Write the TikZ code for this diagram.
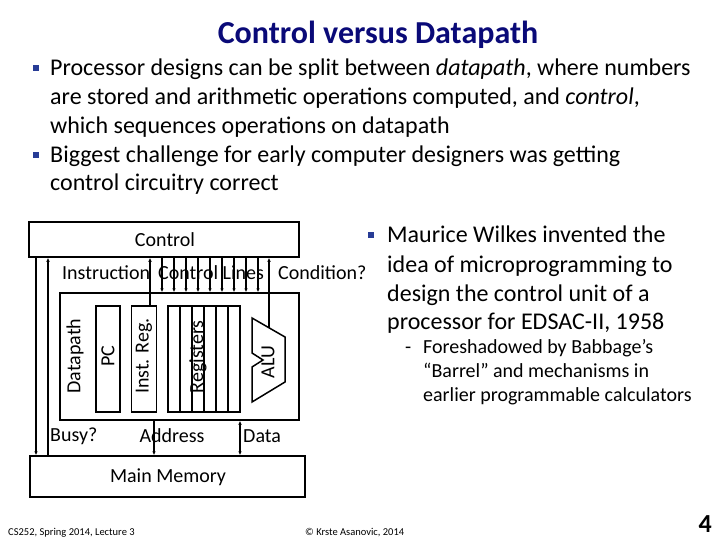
\documentclass[tikz,border=0pt]{standalone}
\usepackage{fontspec}
\setmainfont{Carlito}
\usepackage{xcolor}
\usetikzlibrary{arrows.meta,calc}
\definecolor{titleblue}{RGB}{10,10,120}
\definecolor{bulletblue}{RGB}{40,60,150}
\newcommand{\sqbullet}{\textcolor{bulletblue}{\rule[0.2em]{0.26em}{0.26em}}}

\begin{document}
\begin{tikzpicture}[x=1pt,y=-1pt,
    unit/.style={draw,line width=1.5pt,rectangle,inner sep=0pt},
    sig/.style={line width=1.1pt,-{Latex[length=4pt,width=3.5pt]}},
    sigboth/.style={line width=1.1pt,{Latex[length=4pt,width=3.5pt]}-{Latex[length=4pt,width=3.5pt]}},
    lbl/.style={inner sep=0pt,font=\fontsize{20}{24}\selectfont},
    body/.style={anchor=base west,inner sep=0pt,font=\fontsize{24}{29}\selectfont},
    subbody/.style={anchor=base west,inner sep=0pt,font=\fontsize{20}{24}\selectfont}]
    \useasboundingbox (0,0) rectangle (720,540);

    % title and bullets
    \node[anchor=base,inner sep=0pt,text=titleblue,font=\fontsize{32}{38}\bfseries] (title) at (378,44) {Control versus Datapath};
    \node[body] at (33,76) {\sqbullet};
    \node[body] at (50,76) {Processor designs can be split between \textit{datapath}, where numbers};
    \node[body] at (50,105) {are stored and arithmetic operations computed, and \textit{control},};
    \node[body] at (50,134) {which sequences operations on datapath};
    \node[body] at (33,163) {\sqbullet};
    \node[body] at (50,163) {Biggest challenge for early computer designers was getting};
    \node[body] at (50,191) {control circuitry correct};

    \node[body] at (368,243) {\sqbullet};
    \node[body] at (387,243) {Maurice Wilkes invented the};
    \node[body] at (387,272) {idea of microprogramming to};
    \node[body] at (387,301) {design the control unit of a};
    \node[body] at (387,329) {processor for EDSAC-II, 1958};
    \node[subbody] at (405,353) {-};
    \node[subbody] at (423,353) {Foreshadowed by Babbage’s};
    \node[subbody] at (423,377) {“Barrel” and mechanisms in};
    \node[subbody] at (423,401) {earlier programmable calculators};

    % boxes
    \node[unit,minimum width=270pt,minimum height=35pt] (ctrl) at (164,239.5) {};
    \node[lbl] at (165,240) {Control};
    \node[unit,minimum width=239pt,minimum height=127pt] (dpath) at (179.5,356.5) {};
    \node[unit,minimum width=275pt,minimum height=41pt] (mem) at (167.5,476.5) {};
    \node[lbl] at (168,477) {Main Memory};
    \node[unit,minimum width=24pt,minimum height=106pt] (pc) at (108,359) {};
    \node[unit,minimum width=25pt,minimum height=106pt] (ir) at (144,359) {};
    \node[unit,minimum width=72pt,minimum height=106pt] (regs) at (204,359) {};
    \foreach \x in {180,192,204,216,228}
        \draw[line width=1.1pt] (\x,0 |- regs.north) -- (\x,0 |- regs.south);
    \draw[line width=1.5pt] (252,318) -- (285,337) -- (285,382) -- (252,402)
        -- (252,367) -- (263,360) -- (252,353) -- cycle;
    \coordinate (aluin) at (269,327.5);

    % rotated labels
    \node[lbl,rotate=90] at (75,356) {Datapath};
    \node[lbl,rotate=90] at (108,356) {PC};
    \node[lbl,rotate=90] at (144,356) {Inst. Reg.};
    \node[lbl,rotate=90] at (198,357) {Registers};
    \node[lbl,rotate=90] at (268,362) {ALU};

    % signals
    \node[lbl,anchor=west] at (62,273) {Instruction};
    \node[lbl,anchor=west] at (158,273) {Control Lines};
    \node[lbl,anchor=west] at (278,273) {Condition?};
    \draw[sig] (36,0 |- ctrl.south) -- (36,0 |- mem.north);
    \draw[sig] (48,0 |- mem.north) -- (48,0 |- ctrl.south);
    \draw[sig] (150,0 |- ir.north) -- (150,0 |- ctrl.south);
    \foreach \x in {162,174,...,258}
        \draw[sig] (\x,0 |- ctrl.south) -- (\x,0 |- dpath.north);
    \draw[sig] (aluin) -- (aluin |- ctrl.south);
    \draw[sig] (154,0 |- dpath.south) -- (154,0 |- mem.north);
    \draw[sigboth] (240,0 |- dpath.south) -- (240,0 |- mem.north);
    \node[lbl,anchor=west] at (50,436) {Busy?};
    \node[lbl] at (172,436) {Address};
    \node[lbl,anchor=west] at (243,436) {Data};

    % footer
    \node[anchor=base west,inner sep=0pt,font=\fontsize{10.5}{12}\selectfont] at (8,535) {CS252, Spring 2014, Lecture 3};
    \node[anchor=base west,inner sep=0pt,font=\fontsize{10.5}{12}\selectfont] at (305,535) {© Krste Asanovic, 2014};
    \node[anchor=base east,inner sep=0pt,font=\fontsize{26}{30}\bfseries] at (712,532) {4};
\end{tikzpicture}
\end{document}
